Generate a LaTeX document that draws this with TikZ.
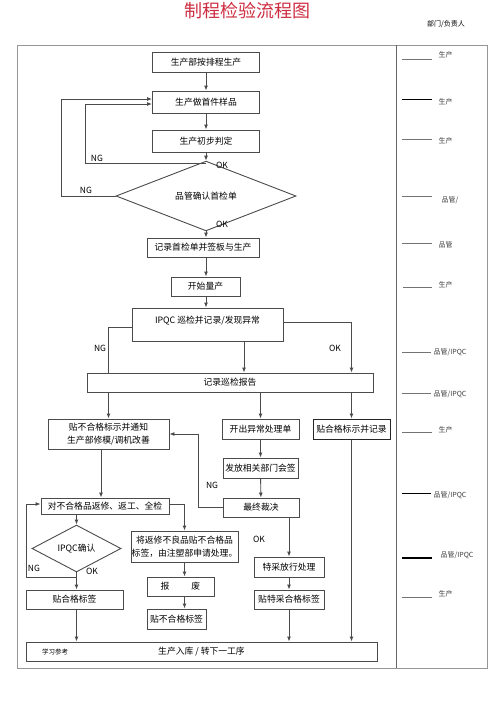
\documentclass[tikz,border=0pt]{standalone}
\usepackage{fontspec}
\setmainfont{Noto Sans CJK SC}
\usetikzlibrary{shapes.geometric,arrows.meta}
\definecolor{titlered}{RGB}{205,45,65}
\definecolor{framegray}{RGB}{150,150,150}
\definecolor{boxline}{RGB}{75,75,75}

\begin{document}
\begin{tikzpicture}[x=1pt,y=-1pt,
  box/.style={draw=boxline,line width=0.9pt,inner sep=0pt,align=center,
    font=\fontsize{8.8}{12.5}\selectfont},
  dia/.style={box,diamond},
  flow/.style={draw=boxline,line width=0.9pt,-{Latex[length=5pt,width=4pt]}},
  wire/.style={draw=boxline,line width=0.8pt},
  verdict/.style={font=\fontsize{8.5}{10}\selectfont},
  duty/.style={font=\fontsize{7}{9}\selectfont,anchor=west,text=black!75},
  dutyline/.style={draw=black!55,line width=0.7pt}]
\useasboundingbox (0,0) rectangle (500,707);
% title and frame
\node (t0) at (247,11) {\fontsize{18}{20}\selectfont\color{titlered}制程检验流程图};
\node (t1) at (446,24) {\fontsize{7}{9}\selectfont 部门/负责人};
\draw[framegray,line width=1pt] (17,45) rectangle (487,668);
\draw[black!60,line width=1pt] (396,45) -- (396,668);
% flow
\node[box,minimum width=107,minimum height=20] (a1) at (206,62) {生产部按排程生产};
\node[box,minimum width=107,minimum height=22] (a2) at (206,102) {生产做首件样品};
\node[box,minimum width=107,minimum height=22] (a3) at (206,141) {生产初步判定};
\node[dia,minimum width=180,minimum height=38] (a4) at (206,196) {品管确认首检单};
\node[box,minimum width=112,minimum height=19] (a5) at (203,247.5) {记录首检单并签板与生产};
\node[box,minimum width=69,minimum height=19] (a6) at (205.5,286.5) {开始量产};
\node[box,minimum width=151,text height=15,text depth=18] (a7) at (207.5,324.5) {IPQC 巡检并记录/发现异常};
\node[box,minimum width=286,minimum height=19] (a8) at (230,382.5) {记录巡检报告};
\node[box,minimum width=121,minimum height=30] (a9) at (108.5,434) {贴不合格标示并通知\\生产部修模/调机改善};
\node[box,minimum width=77,minimum height=20] (a10) at (260.5,429) {开出异常处理单};
\node[box,minimum width=77,minimum height=20,line width=1pt,draw=black!85] (a11) at (351.5,429) {贴合格标示并记录};
\node[box,minimum width=75,minimum height=20] (a12) at (260.5,468) {发放相关部门会签};
\node[box,minimum width=76,minimum height=19] (a13) at (261,507.5) {最终裁决};
\node[box,minimum width=128,minimum height=16] (a14) at (105,506) {对不合格品返修、返工、全检};
\node[box,minimum width=107,minimum height=31] (a15) at (184.5,546.5) {将返修不良品贴不合格品\\标签，由注塑部申请处理。};
\node[box,minimum width=67,minimum height=19] (a16) at (180.5,586.5) {报\hspace{22pt}废};
\node[box,minimum width=59,minimum height=20] (a17) at (176.5,619) {贴不合格标签};
\node[dia,minimum width=89,minimum height=39] (a18) at (76.5,548.5) {IPQC确认};
\node[box,minimum width=97,minimum height=19] (a19) at (74.5,599.5) {贴合格标签};
\node[box,minimum width=70,minimum height=20] (a20) at (289,567) {特采放行处理};
\node[box,minimum width=70,minimum height=19] (a21) at (289,599.5) {贴特采合格标签};
\node[box,minimum width=351,minimum height=19] (a22) at (201.5,651.5) {生产入库 / 转下一工序};
\node[font=\fontsize{6.5}{8}\selectfont] (a23) at (55,652) {学习参考};
\coordinate (c1) at (206,163);
\coordinate (c2) at (76.5,577);
\draw[flow] (a1) -- (a2);
\draw[flow] (a2) -- (a3);
\draw[flow] (a3) -- (a4);
\draw[flow] (c1) -- ++(-121,0) |- ([yshift=-2pt]a2.west);
\draw[flow] (a4.west) -- ++(-54,0) |- ([yshift=3pt]a2.west);
\draw[flow] (a4.south) -- (a4.south |- a5.north);
\draw[flow] (a5.south -| a4) -- (a6.north -| a4);
\draw[flow] (a6.south -| a4) -- (a7.north -| a4);
\draw[wire] ([yshift=-2.5pt]a7.west) -| ([xshift=22pt]a8.north west);
\draw[flow] ([xshift=36.5pt]a7.south) -- ([xshift=36.5pt]a7.south |- a8.north);
\draw[flow] ([yshift=2.5pt]a7.east) -| (a8.north -| a11);
\draw[flow] (a8.south -| a9) -- (a9.north);
\draw[flow] (a8.south -| a10) -- (a10.north);
\draw[flow] (a8.south -| a11) -- (a11.north);
\draw[flow] (a10) -- (a12);
\draw[flow] (a12) -- (a13);
\draw[flow] (a13.west) -- ++(-24,0) |- (a9.east);
\draw[flow] ([xshift=-7.5pt]a9.south) -- ([xshift=-7.5pt]a9.south |- a14.north);
\draw[flow] ([yshift=2pt]a14.east) -| (a15.north);
\draw[flow] (a15.south) -- (a15.south |- a16.north);
\draw[flow] (a16.south -| a15) -- (a17.north -| a15);
\draw[flow] (a14.south -| a18) -- (a18.north);
\draw[flow] (a18.south) -- (a18.south |- a19.north);
\draw[flow] (c2) -- ++(-50.5,0) |- ([yshift=2pt]a14.west);
\draw[flow] (a19.south -| a18) -- (a22.north -| a18);
\draw[flow] (a13.south -| a20) -- (a20.north);
\draw[flow] (a20) -- (a21);
\draw[flow] (a21.south) -- (a21.south |- a22.north);
\draw[flow] (a11.south) -- (a11.south |- a22.north);
% NG / OK
\node[verdict] (m1) at (97,158) {NG};
\node[verdict] (m2) at (222,165) {OK};
\node[verdict] (m3) at (86,190) {NG};
\node[verdict] (m4) at (222,224) {OK};
\node[verdict] (m5) at (100,348) {NG};
\node[verdict] (m6) at (335,348) {OK};
\node[verdict] (m7) at (212,485) {NG};
\node[verdict] (m8) at (259,539) {OK};
\node[verdict] (m9) at (34,568) {NG};
\node[verdict] (m10) at (92,571) {OK};
% right column
\draw[dutyline] (402,59) -- (432,59);
\node[duty] (d1) at (435,55) {生产};
\draw[dutyline,black] (402,99) -- (432,99);
\node[duty] (d2) at (435,102) {生产};
\draw[dutyline] (402,139) -- (432,139);
\node[duty] (d3) at (435,141) {生产};
\draw[dutyline] (402,196) -- (432,196);
\node[duty] (d4) at (438,200) {品管/};
\draw[dutyline] (402,243) -- (432,243);
\node[duty] (d5) at (435,245) {品管};
\draw[dutyline] (403,287) -- (432,287);
\node[duty] (d6) at (435,285) {生产};
\draw[dutyline] (402,352) -- (431,352);
\node[duty] (d7) at (430,352) {品管/IPQC};
\draw[dutyline] (402,393) -- (431,393);
\node[duty] (d8) at (430,394) {品管/IPQC};
\draw[dutyline] (402,432) -- (432,432);
\node[duty] (d9) at (435,430) {生产};
\draw[dutyline,black] (402,493) -- (431,493);
\node[duty] (d10) at (430,495) {品管/IPQC};
\draw[dutyline,black,line width=1.2pt] (402,558) -- (432,558);
\node[duty] (d11) at (437,555) {品管/IPQC};
\draw[dutyline] (402,597) -- (432,597);
\node[duty] (d12) at (435,594) {生产};
\end{tikzpicture}
\end{document}
